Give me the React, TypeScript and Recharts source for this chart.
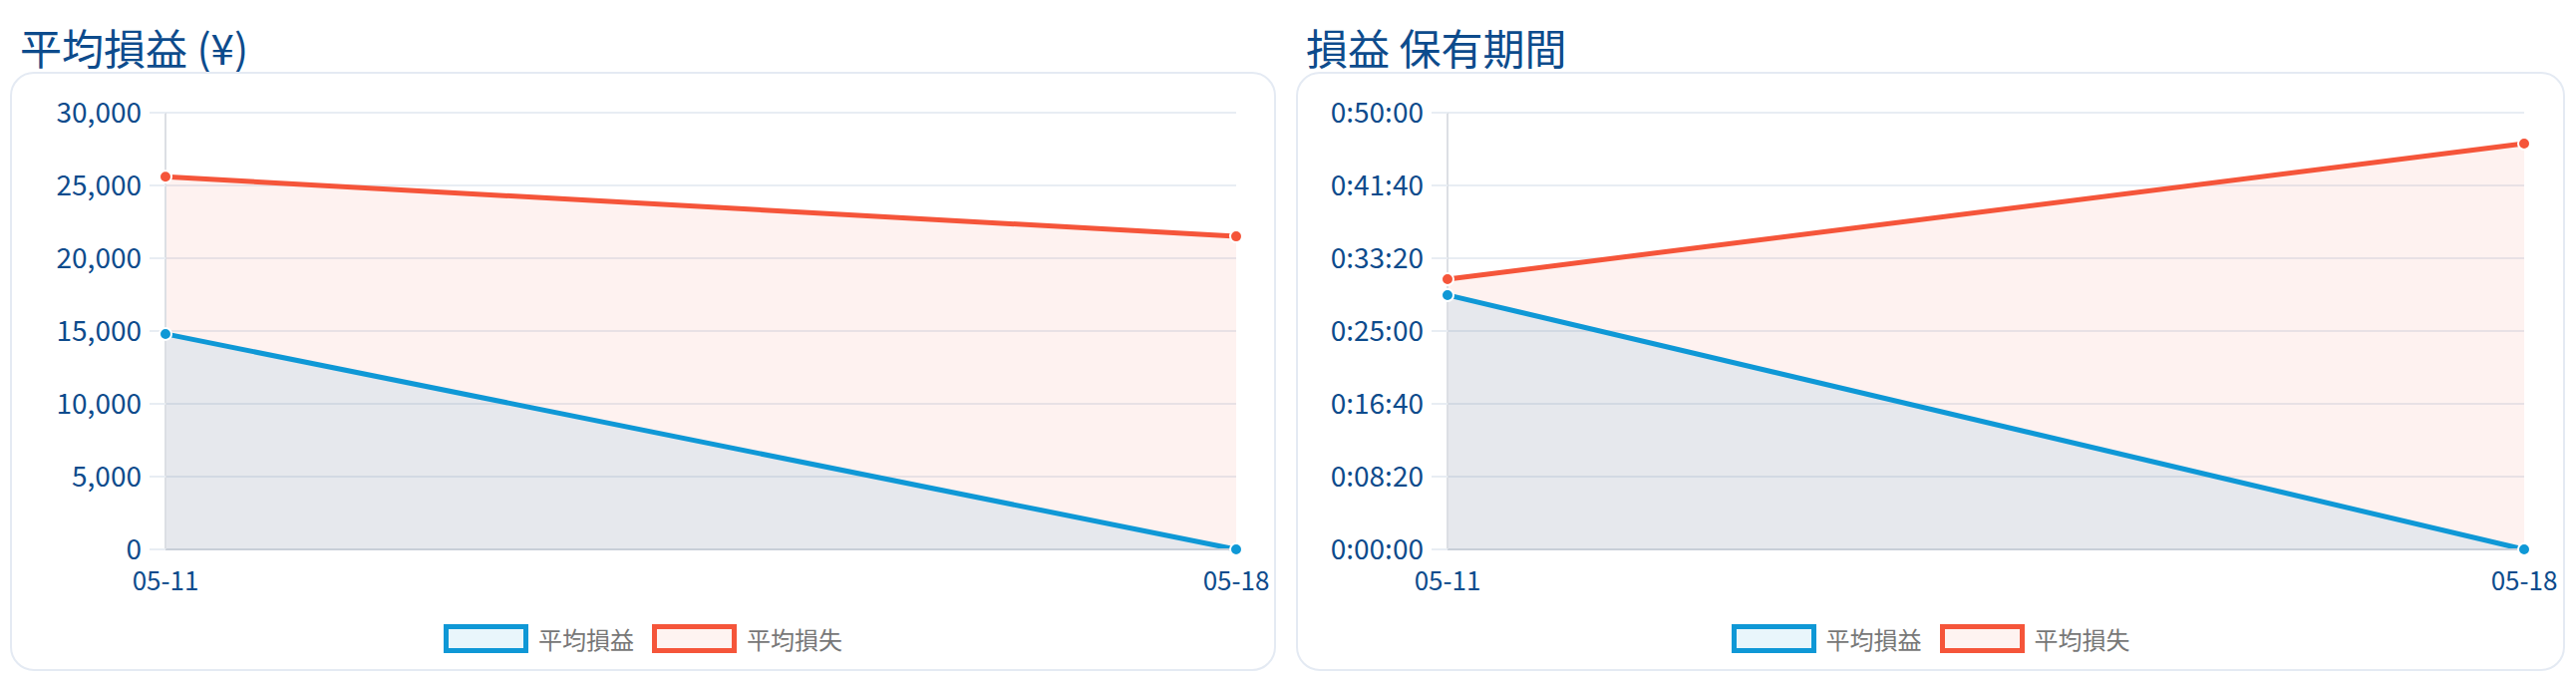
import React from "react";
import {
  AreaChart,
  Area,
  XAxis,
  YAxis,
  CartesianGrid,
} from "recharts";

const dates = ["05-11", "05-18"];
const avgProfit = [14800, 0];
const avgLoss = [25600, 21500];
// holding period in seconds
const holdProfit = [1747, 0];
const holdLoss = [1856, 2788];

const yenTicks = [0, 5000, 10000, 15000, 20000, 25000, 30000];
const timeTicks = [0, 500, 1000, 1500, 2000, 2500, 3000];

const BLUE = "#0f98d6";
const RED = "#f5553a";
const INK = "#0d4b8c";
const FONT = '"Noto Sans CJK JP", "Noto Sans", sans-serif';

const pnlData = dates.map((d, i) => ({ date: d, profit: avgProfit[i], loss: avgLoss[i] }));
const holdData = dates.map((d, i) => ({ date: d, profit: holdProfit[i], loss: holdLoss[i] }));

const fmtYen = (v: number) => v.toLocaleString("en-US");
const fmtTime = (v: number) => {
  const h = Math.floor(v / 3600);
  const m = Math.floor((v % 3600) / 60);
  const s = v % 60;
  return `${h}:${String(m).padStart(2, "0")}:${String(s).padStart(2, "0")}`;
};

const Legend = () => (
  <div
    style={{
      position: "absolute",
      left: 0,
      right: 0,
      top: 552,
      display: "flex",
      justifyContent: "center",
      alignItems: "center",
      fontFamily: FONT,
      fontSize: 24,
      color: "#777",
    }}
  >
    {[
      { name: "平均損益", c: BLUE, bg: "rgba(15,152,214,0.09)" },
      { name: "平均損失", c: RED, bg: "rgba(245,85,58,0.07)" },
    ].map((it, i) => (
      <div key={it.name} style={{ display: "flex", alignItems: "center", marginLeft: i ? 18 : 0 }}>
        <div
          style={{
            width: 85,
            height: 29,
            boxSizing: "border-box",
            border: `5px solid ${it.c}`,
            background: it.bg,
          }}
        />
        <span style={{ marginLeft: 10, lineHeight: 1 }}>{it.name}</span>
      </div>
    ))}
  </div>
);

const Panel = ({
  left,
  width,
  title,
  data,
  ticks,
  fmt,
  yWidth,
  right,
}: {
  left: number;
  width: number;
  title: string;
  data: any[];
  ticks: number[];
  fmt: (v: number) => string;
  yWidth: number;
  right: number;
}) => (
  <>
    <div
      style={{
        position: "absolute",
        left: left + 10,
        top: 18,
        fontFamily: FONT,
        fontSize: 42,
        fontWeight: 400,
        lineHeight: 1,
        color: INK,
        whiteSpace: "nowrap",
      }}
    >
      {title}
    </div>
    <div
      style={{
        position: "absolute",
        left,
        top: 64,
        width,
        height: 601,
        boxSizing: "border-box",
        border: "2px solid #e4eaf3",
        borderRadius: 24,
        background: "#fff",
      }}
    >
      <AreaChart
        width={width - 4}
        height={597}
        data={data}
        margin={{ top: 39, right, left: 0, bottom: 60 }}
        style={{ fontFamily: FONT }}
      >
        <CartesianGrid vertical={false} stroke="#e8edf3" strokeWidth={2} />
        <XAxis
          dataKey="date"
          height={60}
          axisLine={{ stroke: "#c8cfd8", strokeWidth: 2 }}
          tickLine={false}
          tickMargin={17}
          tick={{ fill: INK, fontSize: 26 }}
        />
        <YAxis
          width={yWidth}
          domain={[0, ticks[ticks.length - 1]]}
          ticks={ticks}
          tickFormatter={fmt}
          axisLine={{ stroke: "#dcdfe4", strokeWidth: 2 }}
          tickLine={{ stroke: "#e8edf3", strokeWidth: 2 }}
          tickSize={16}
          tickMargin={8}
          tick={{ fill: INK, fontSize: 28 }}
        />
        <Area
          type="linear"
          dataKey="loss"
          name="平均損失"
          stroke={RED}
          strokeWidth={5}
          fill={RED}
          fillOpacity={0.08}
          dot={{ r: 6, fill: RED, stroke: "#fff", strokeWidth: 2, fillOpacity: 1 }}
          activeDot={false}
          isAnimationActive={false}
        />
        <Area
          type="linear"
          dataKey="profit"
          name="平均損益"
          stroke={BLUE}
          strokeWidth={5}
          fill={BLUE}
          fillOpacity={0.1}
          dot={{ r: 6, fill: BLUE, stroke: "#fff", strokeWidth: 2, fillOpacity: 1 }}
          activeDot={false}
          isAnimationActive={false}
        />
      </AreaChart>
      <Legend />
    </div>
  </>
);

export default function App() {
  return (
    <div style={{ position: "relative", width: 2568, height: 670 }}>
      <Panel
        left={2}
        width={1270}
        title="平均損益 (¥)"
        data={pnlData}
        ticks={yenTicks}
        fmt={fmtYen}
        yWidth={154}
        right={38}
      />
      <Panel
        left={1292}
        width={1273}
        title="損益 保有期間"
        data={holdData}
        ticks={timeTicks}
        fmt={fmtTime}
        yWidth={150}
        right={39}
      />
    </div>
  );
}
